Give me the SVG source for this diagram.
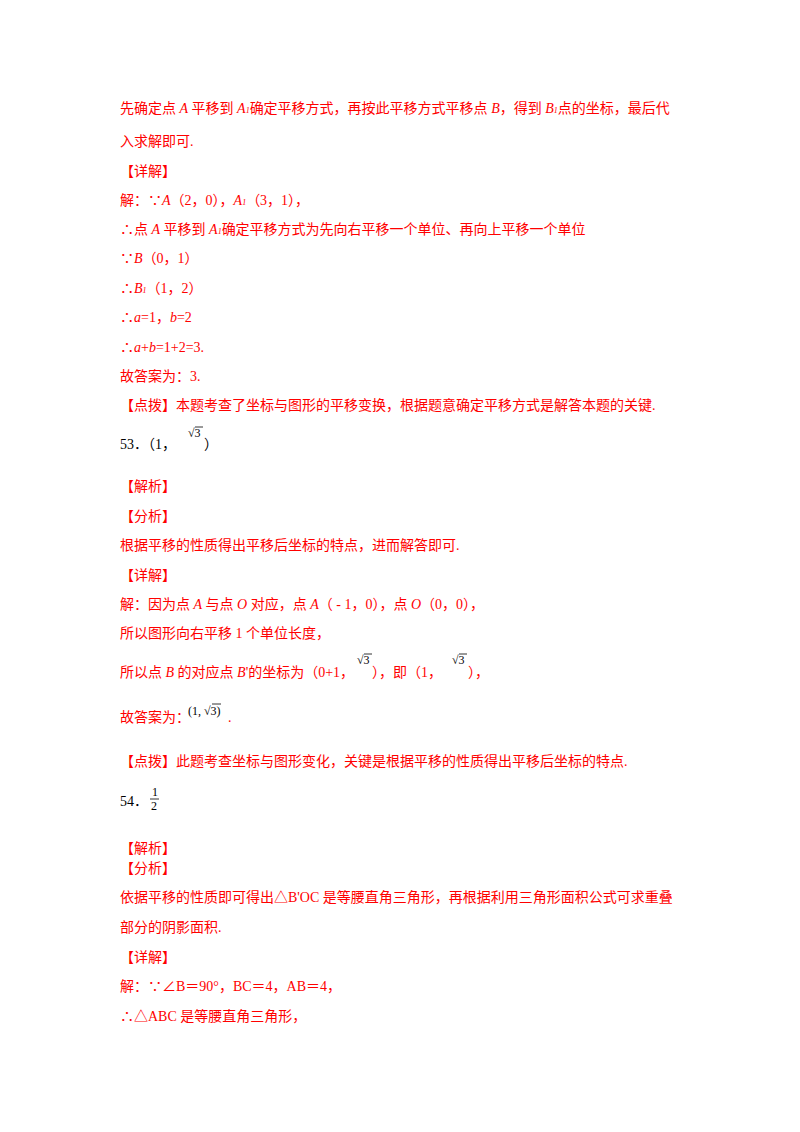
<svg xmlns="http://www.w3.org/2000/svg" width="800" height="1132" viewBox="0 0 800 1132">
<style>
text{font-family:"Liberation Serif","Noto Sans CJK SC",serif;font-size:14px}
.r{fill:#ff0000}
.k{fill:#000}
.m{font-size:12px;fill:#000}
</style>
<rect width="800" height="1132" fill="#fff"/>
<g id="text">
<text class="r" x="120" y="113">先确定点 <tspan font-style="italic">A</tspan> 平移到 <tspan font-style="italic">A</tspan><tspan font-size="8" font-style="italic">1</tspan>确定平移方式，再按此平移方式平移点 <tspan font-style="italic">B</tspan>，得到 <tspan font-style="italic">B</tspan><tspan font-size="8" font-style="italic">1</tspan>点的坐标，最后代</text>
<text class="r" x="120" y="146">入求解即可.</text>
<text class="r" x="120" y="176">【详解】</text>
<text class="r" x="120" y="205">解：∵<tspan font-style="italic">A</tspan>（2，0），<tspan font-style="italic">A</tspan><tspan font-size="8" font-style="italic">1</tspan>（3，1），</text>
<text class="r" x="120" y="234">∴点 <tspan font-style="italic">A</tspan> 平移到 <tspan font-style="italic">A</tspan><tspan font-size="8" font-style="italic">1</tspan>确定平移方式为先向右平移一个单位、再向上平移一个单位</text>
<text class="r" x="120" y="263">∵<tspan font-style="italic">B</tspan>（0，1）</text>
<text class="r" x="120" y="293">∴<tspan font-style="italic">B</tspan><tspan font-size="8" font-style="italic">1</tspan>（1，2）</text>
<text class="r" x="120" y="322">∴<tspan font-style="italic">a</tspan>=1，<tspan font-style="italic">b</tspan>=2</text>
<text class="r" x="120" y="352">∴<tspan font-style="italic">a</tspan>+<tspan font-style="italic">b</tspan>=1+2=3.</text>
<text class="r" x="120" y="381">故答案为：3.</text>
<text class="r" x="120" y="410">【点拨】本题考查了坐标与图形的平移变换，根据题意确定平移方式是解答本题的关键.</text>
<text class="k" x="120" y="449">53．（1，</text>
<text class="m" x="188" y="437">√3</text><line x1="195" y1="427" x2="203" y2="427" stroke="#000" stroke-width="0.8"/>
<text class="k" x="204" y="449">）</text>
<text class="r" x="120" y="491">【解析】</text>
<text class="r" x="120" y="521">【分析】</text>
<text class="r" x="120" y="550">根据平移的性质得出平移后坐标的特点，进而解答即可.</text>
<text class="r" x="120" y="580">【详解】</text>
<text class="r" x="120" y="609">解：因为点 <tspan font-style="italic">A</tspan> 与点 <tspan font-style="italic">O</tspan> 对应，点 <tspan font-style="italic">A</tspan>（ - 1，0），点 <tspan font-style="italic">O</tspan>（0，0），</text>
<text class="r" x="120" y="638">所以图形向右平移 1 个单位长度，</text>
<text class="r" x="120" y="677">所以点 <tspan font-style="italic">B</tspan> 的对应点 <tspan font-style="italic">B</tspan>'的坐标为（0+1，</text>
<text class="m" x="357" y="664">√3</text><line x1="364" y1="654" x2="372" y2="654" stroke="#000" stroke-width="0.8"/>
<text class="r" x="372" y="677">），即（1，</text>
<text class="m" x="452" y="664">√3</text><line x1="459" y1="654" x2="467" y2="654" stroke="#000" stroke-width="0.8"/>
<text class="r" x="468" y="677">），</text>
<text class="r" x="120" y="722">故答案为：</text>
<text class="m" x="188" y="715">(1, √3)</text><line x1="212" y1="704" x2="221" y2="704" stroke="#000" stroke-width="0.8"/>
<text class="r" x="228" y="722">.</text>
<text class="r" x="120" y="766">【点拨】此题考查坐标与图形变化，关键是根据平移的性质得出平移后坐标的特点.</text>
<text class="k" x="120" y="806">54．</text>
<text class="m" x="152" y="796" font-size="11">1</text><line x1="150" y1="799" x2="159" y2="799" stroke="#000" stroke-width="0.8"/>
<text class="m" x="151" y="810" font-size="11">2</text>
<text class="r" x="120" y="853">【解析】</text>
<text class="r" x="120" y="873">【分析】</text>
<text class="r" x="120" y="902">依据平移的性质即可得出△B'OC 是等腰直角三角形，再根据利用三角形面积公式可求重叠</text>
<text class="r" x="120" y="932">部分的阴影面积.</text>
<text class="r" x="120" y="962">【详解】</text>
<text class="r" x="120" y="991">解：∵∠B＝90°，BC＝4，AB＝4，</text>
<text class="r" x="120" y="1021">∴△ABC 是等腰直角三角形，</text>
</g>
</svg>
